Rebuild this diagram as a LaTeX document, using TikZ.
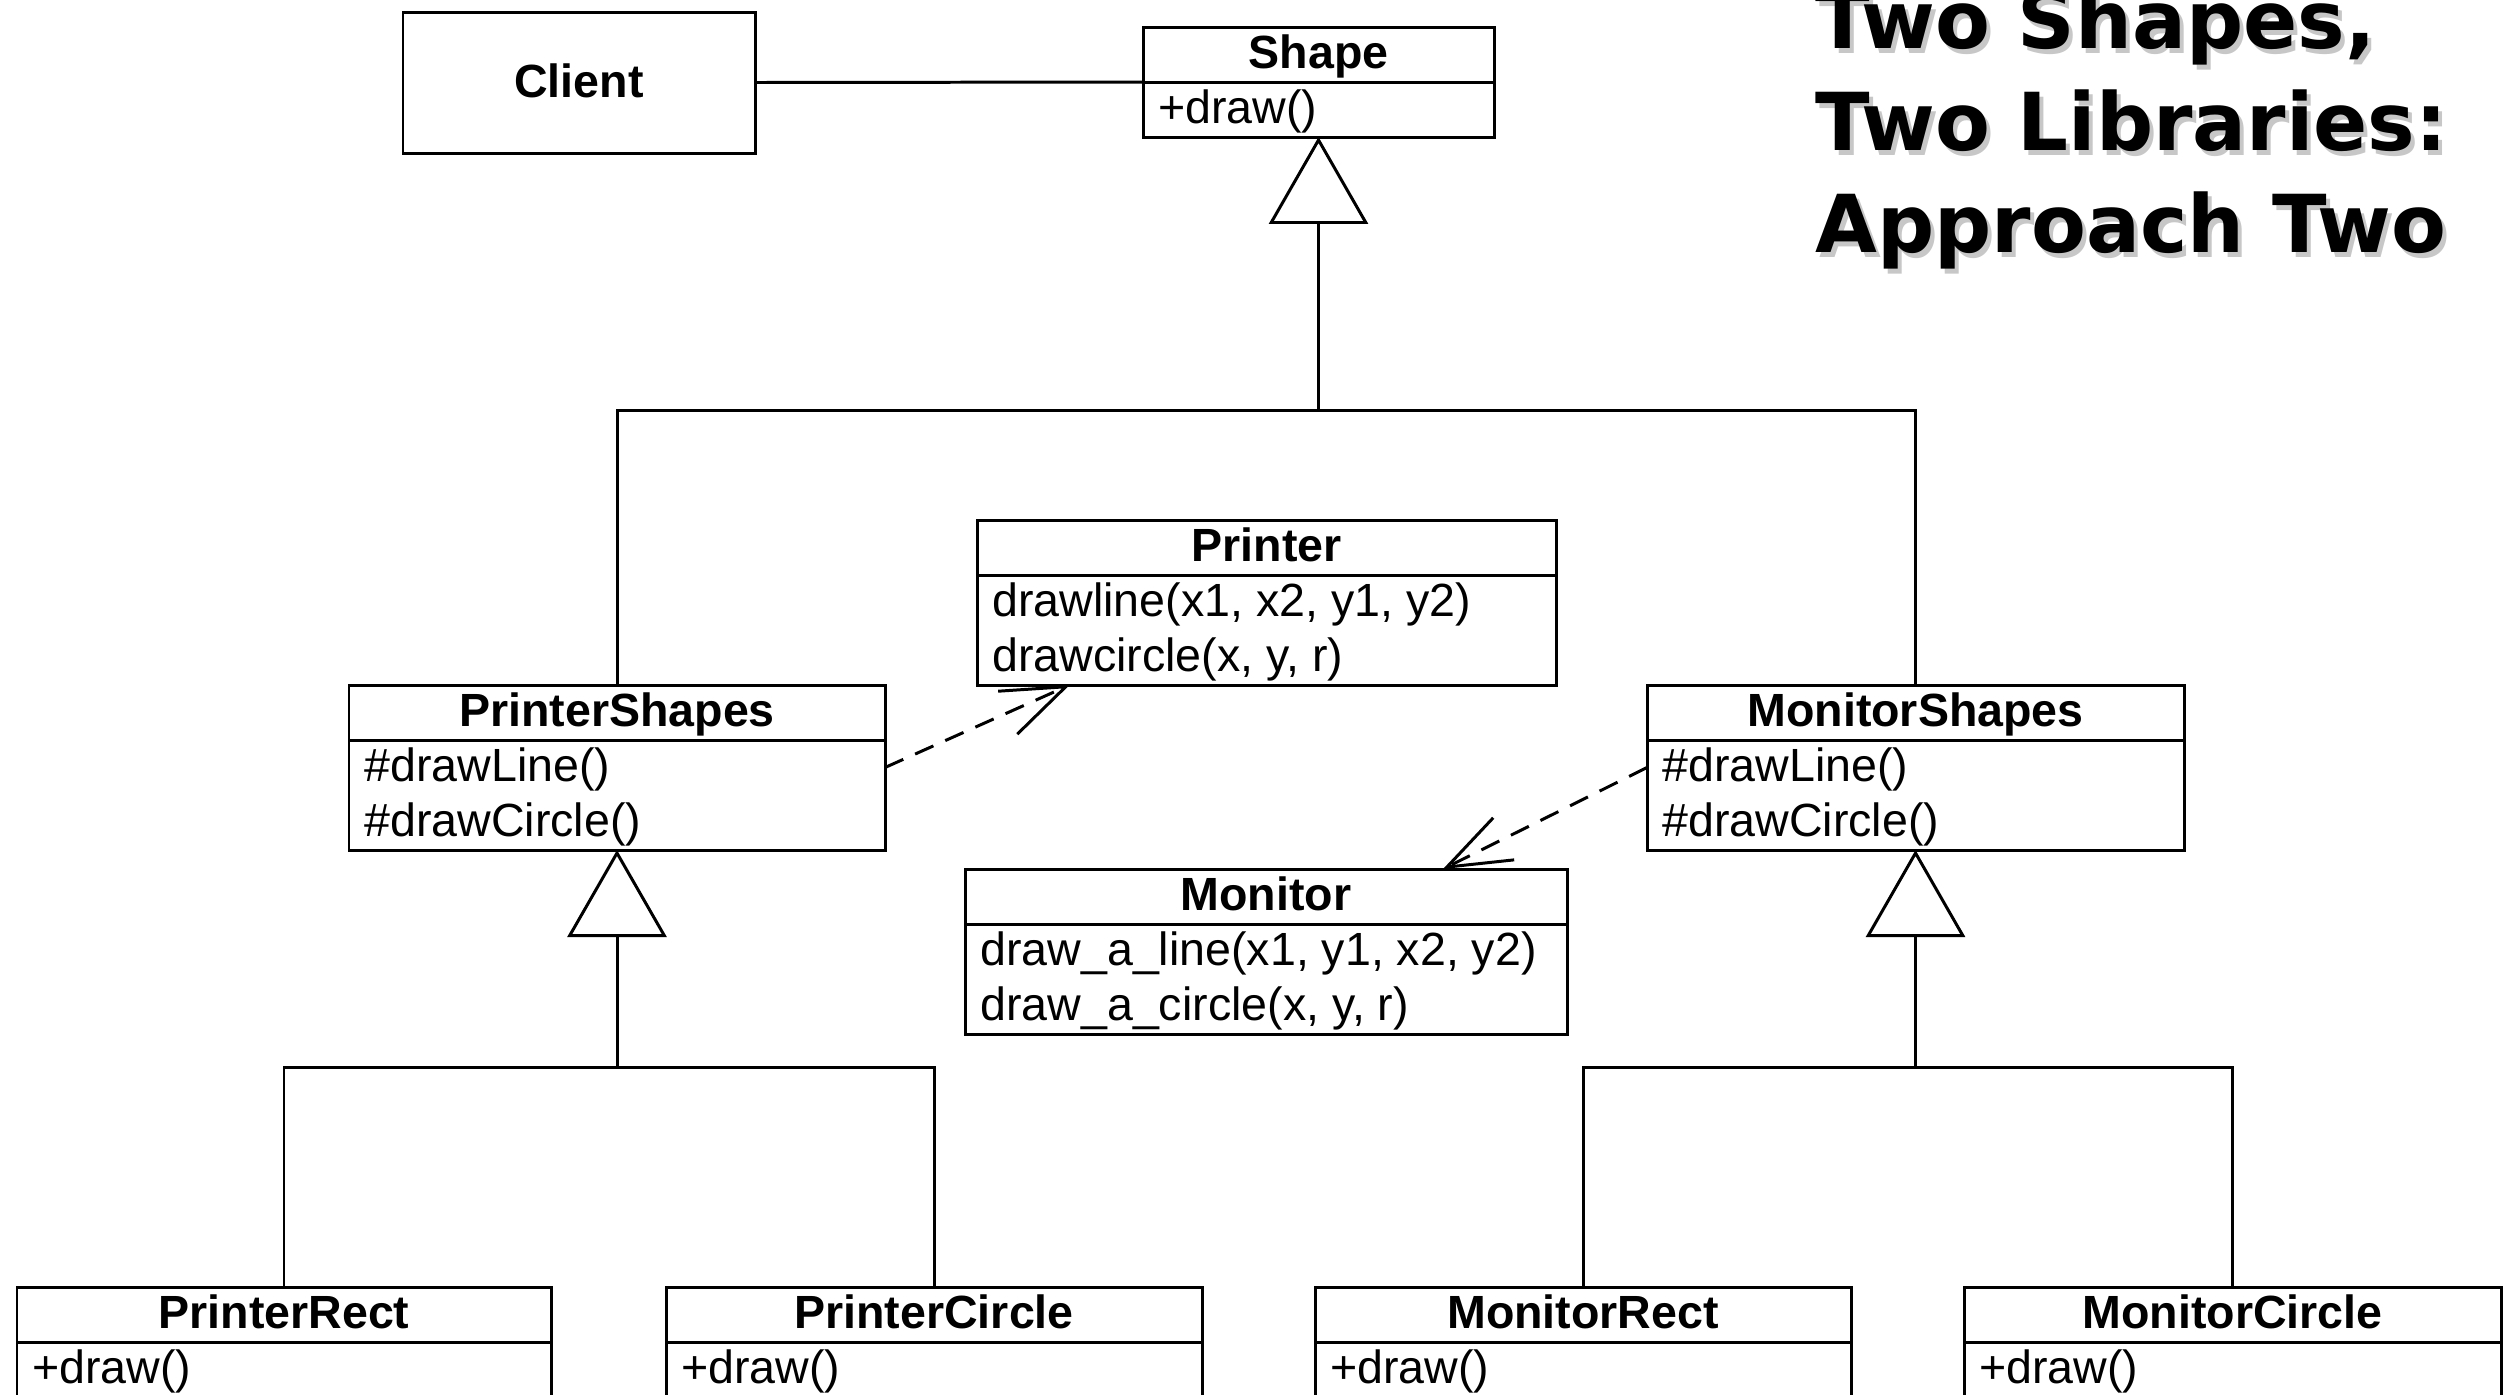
\documentclass[tikz,border=0pt]{standalone}
\usepackage{fontspec}
\setmainfont{Liberation Sans}
\newfontfamily\titlefont{DejaVu Sans}
\usetikzlibrary{arrows.meta,calc}
\tikzset{
  lw/.style={line width=1.7pt},
  box/.style={draw, lw, rectangle, inner sep=0pt, outer sep=0pt, anchor=north west},
  cname/.style={font=\fontsize{26.5pt}{31pt}\selectfont\bfseries, anchor=base, inner sep=0pt},
  cattr/.style={font=\fontsize{26.5pt}{31pt}\selectfont, anchor=base west, inner sep=0pt},
  inh/.style={lw, -{Triangle[open, fill=white, length=1.74cm, width=1.98cm]}},
  tree/.style={lw, line join=miter},
  dep/.style={lw, dash pattern=on 0.4cm off 0.26cm, -{Straight Barb[length=1.27cm, width=0.94cm]}},
  ttl/.style={font=\titlefont\bfseries\fontsize{45.5pt}{54pt}\selectfont, anchor=base west, inner sep=0pt},
}
% text with a soft drop shadow, in one box
\newcommand\shadowed[1]{\rlap{\kern0.08cm\raisebox{-0.1cm}{\textcolor{black!22}{#1}}}#1}
% id, left, top, right, bottom, title, attr1, attr2
\newcommand\umlclass[8]{%
  \node[box, minimum width={(#4-#2)*0.02cm}, minimum height={(#5-#3)*0.02cm}] (#1) at (#2,#3) {};
  \draw[lw] ($(#1.north west)+(0,55)$) -- ($(#1.north east)+(0,55)$);
  \node[cname] (#1-name) at ({(#2+#4)/2},#3+41) {#6};
  \node[cattr] (#1-a1) at (#2+15,#3+96) {#7};
  \if\relax\detokenize{#8}\relax\else
  \node[cattr] (#1-a2) at (#2+15,#3+151) {#8};
  \fi
}
\begin{document}
\begin{tikzpicture}[x=0.02cm,y=-0.02cm]
\useasboundingbox (0,0) rectangle (2514,1394);
\fill[white] (0,0) rectangle (2514,1394);
\clip (0,0) rectangle (2514,1394);

% title
\node[ttl] (t1) at (1815,48) {\shadowed{Two Shapes,}};
\node[ttl] (t2) at (1815,150) {\shadowed{Two Libraries:}};
\node[ttl] (t3) at (1815,252) {\shadowed{Approach Two}};

% client
\node[box, minimum width={352*0.02cm}, minimum height={141*0.02cm}] (client) at (403,12) {};
\node[cname] (client-name) at (579,97) {Client};

% classes
\umlclass{shape}{1143}{27}{1494}{137}{Shape}{+draw()}{}
\umlclass{printer}{977}{520}{1556}{685}{Printer}{drawline(x1, x2, y1, y2)}{drawcircle(x, y, r)}
\umlclass{pshapes}{349}{685}{885}{850}{PrinterShapes}{\#drawLine()}{\#drawCircle()}
\umlclass{mshapes}{1647}{685}{2184}{850}{MonitorShapes}{\#drawLine()}{\#drawCircle()}
\umlclass{monitor}{965}{869}{1567}{1034}{Monitor}{draw\_a\_line(x1, y1, x2, y2)}{draw\_a\_circle(x, y, r)}
\umlclass{prect}{17}{1287}{551}{1397}{PrinterRect}{+draw()}{}
\umlclass{pcircle}{666}{1287}{1202}{1397}{PrinterCircle}{+draw()}{}
\umlclass{mrect}{1315}{1287}{1851}{1397}{MonitorRect}{+draw()}{}
\umlclass{mcircle}{1964}{1287}{2501}{1397}{MonitorCircle}{+draw()}{}

% association
\draw[lw] (client.east) -- (shape.west);

% inheritance: Shape
\coordinate (hub1) at (shape.south |- 0,410);
\draw[inh] (hub1) -- (shape.south);
\draw[tree] (pshapes.north) |- (hub1) -| (mshapes.north);

% inheritance: PrinterShapes
\coordinate (hub2) at (pshapes.south |- 0,1067);
\draw[inh] (hub2) -- (pshapes.south);
\draw[tree] (prect.north) |- (hub2) -| (pcircle.north);

% inheritance: MonitorShapes
\coordinate (hub3) at (mshapes.south |- 0,1067);
\draw[inh] (hub3) -- (mshapes.south);
\draw[tree] (mrect.north) |- (hub3) -| (mcircle.north);

% dependencies
\draw[dep] (pshapes.east) -- ($(printer.south west)!0.16!(printer.south east)$);
\draw[dep] (mshapes.west) -- ($(monitor.north west)!0.794!(monitor.north east)$);
\end{tikzpicture}
\end{document}
